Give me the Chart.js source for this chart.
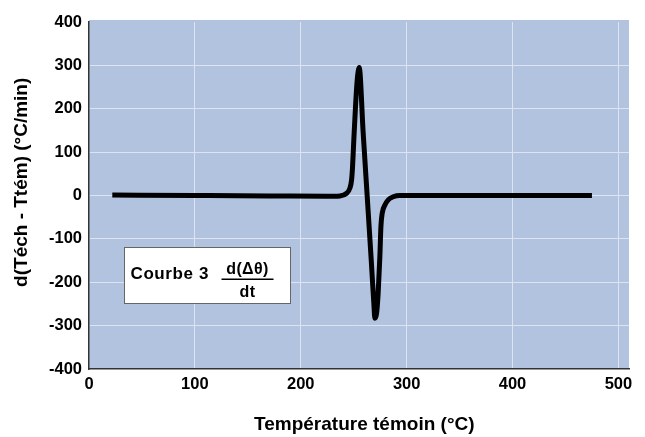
<!DOCTYPE html>
<html>
<head>
<meta charset="utf-8">
<script src="https://cdn.jsdelivr.net/npm/chart.js@4.4.1/dist/chart.umd.min.js"></script>
<style>
    html, body { margin: 0; padding: 0; background: #fff; }
    #wrap { width: 645px; height: 437px; }
</style>
</head>
<body>
<div id="wrap"><canvas id="dtaChart" width="645" height="437"></canvas></div>
<script>
// Courbe 3 : dérivée de l'écart de température en fonction de la température témoin
const temps = [22, 100, 170, 225, 237, 243.2, 246.4, 248, 248.9, 250.1, 251.7, 253.3, 255.2,
    258.9, 262.7, 266.5, 269, 270, 271.6, 273.1, 274.7, 275.7, 276.9, 279.5, 282.6, 287.3,
    293.6, 310, 400, 475];
const dDelta = [1, 0, -1, -2, -1, 5, 17, 36, 66, 128, 205, 266, 295,
    146, 0, -147, -248, -283, -272, -225, -141, -72, -41, -22, -10, -3,
    0, 0, 0, 0];

const xTicks = [0, 100, 200, 300, 400, 500];
const yTicks = [-400, -300, -200, -100, 0, 100, 200, 300, 400];

const PLOT_BG = '#b2c3e0';
const GRID = '#dde3f1';
const tickFont = { family: "'Liberation Sans', Arial, sans-serif", size: 16.5, weight: 'bold' };
const titleFont = { family: "'Liberation Sans', Arial, sans-serif", size: 19, weight: 'bold' };

// fond bleu de la zone de tracé
const plotBackground = {
    id: 'plotBackground',
    beforeDraw(chart) {
        const { ctx, chartArea: a } = chart;
        ctx.save();
        ctx.fillStyle = PLOT_BG;
        ctx.fillRect(a.left, a.top - 2, a.right - a.left, a.bottom - a.top + 2);
        ctx.restore();
    }
};

// encadré "Courbe 3 d(Δθ)/dt"
const curveNote = {
    id: 'curveNote',
    afterDraw(chart) {
        const { ctx, scales: { x, y } } = chart;
        const x0 = Math.round(x.getPixelForValue(33)) + 0.5;
        const x1 = Math.round(x.getPixelForValue(190)) + 0.5;
        const y0 = Math.round(y.getPixelForValue(-119)) + 0.5;
        const y1 = Math.round(y.getPixelForValue(-248)) + 0.5;
        ctx.save();
        ctx.fillStyle = '#fff';
        ctx.strokeStyle = '#666';
        ctx.lineWidth = 1;
        ctx.fillRect(x0, y0, x1 - x0, y1 - y0);
        ctx.strokeRect(x0, y0, x1 - x0, y1 - y0);

        ctx.fillStyle = '#000';
        ctx.textBaseline = 'alphabetic';
        ctx.letterSpacing = '0.6px';
        ctx.font = "bold 17px 'Liberation Sans', Arial, sans-serif";
        ctx.textAlign = 'left';
        ctx.fillText('Courbe 3', x0 + 6, y0 + 31);

        const fx = x0 + 123;
        ctx.font = "bold 16px 'Liberation Sans', Arial, sans-serif";
        ctx.letterSpacing = '0.4px';
        ctx.textAlign = 'center';
        ctx.fillText('d(\u0394\u03b8)', fx, y0 + 26);
        ctx.fillText('dt', fx, y0 + 49);
        ctx.fillRect(fx - 26, y0 + 31, 52, 1.5);
        ctx.restore();
    }
};

const chart = new Chart(document.getElementById('dtaChart'), {
    type: 'line',
    data: {
        datasets: [{
            data: temps.map((t, i) => ({ x: t, y: dDelta[i] })),
            borderColor: '#000',
            borderWidth: 5,
            pointRadius: 0,
            fill: false,
            cubicInterpolationMode: 'monotone'
        }]
    },
    options: {
        responsive: false,
        animation: false,
        layout: { padding: { top: 22, right: 16, left: 0, bottom: 0 } },
        plugins: { legend: { display: false }, tooltip: { enabled: false } },
        scales: {
            x: {
                type: 'linear',
                min: 0, max: 510,
                afterBuildTicks: s => { s.ticks = xTicks.map(v => ({ value: v })); },
                afterFit: s => { s.height = 68; },
                grid: { color: c => c.tick && c.tick.value === 0 ? 'transparent' : GRID, lineWidth: 1, drawTicks: false },
                border: { display: true, color: '#333', width: 1.5 },
                ticks: { color: '#000', font: tickFont, padding: 6, maxRotation: 0 },
                title: {
                    display: true,
                    text: '  Température témoin (°C)',
                    color: '#000',
                    font: titleFont,
                    padding: { top: 0, bottom: 1 }
                }
            },
            y: {
                min: -400, max: 400,
                afterBuildTicks: s => { s.ticks = yTicks.map(v => ({ value: v })); },
                afterFit: s => { s.width = 89; },
                grid: { color: c => c.tick && Math.abs(c.tick.value) === 400 ? 'transparent' : GRID, lineWidth: 1, drawTicks: false },
                border: { display: true, color: '#333', width: 1.5 },
                ticks: { color: '#000', font: tickFont, padding: 7 },
                title: {
                    display: true,
                    text: '     d(Téch - Ttém) (°C/min)',
                    color: '#000',
                    font: titleFont,
                    padding: { top: 10, bottom: 0 }
                }
            }
        }
    },
    plugins: [plotBackground, curveNote]
});
</script>
</body>
</html>
